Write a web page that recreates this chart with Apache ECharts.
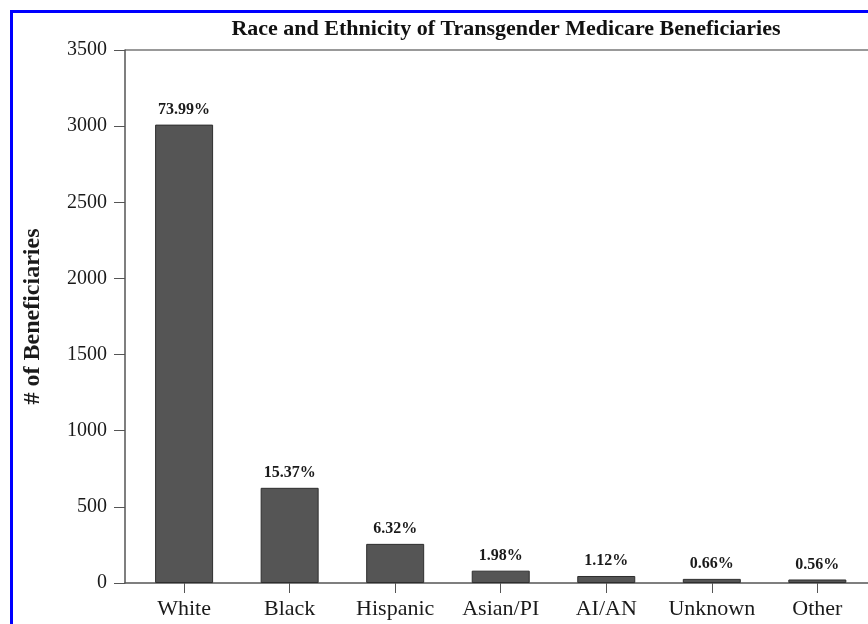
<!DOCTYPE html>
<html>
<head>
<meta charset="utf-8">
<script src="https://cdn.jsdelivr.net/npm/echarts@6/dist/echarts.min.js"></script>
<style>
  html, body { margin: 0; padding: 0; background: #fff; overflow: hidden; }
  #main { position: absolute; left: 0; top: 0; width: 868px; height: 624px; }
  #frame { position: absolute; left: 10px; top: 10px; width: 900px; height: 700px;
           border-left: 3px solid #0000ff; border-top: 3px solid #0000ff; pointer-events: none; }
</style>
</head>
<body>
<div id="main"></div>
<div id="frame"></div>
<script>
var categories = ['White', 'Black', 'Hispanic', 'Asian/PI', 'AI/AN', 'Unknown', 'Other'];
var counts = [3010, 625, 257, 81, 46, 27, 23];
var percents = ['73.99%', '15.37%', '6.32%', '1.98%', '1.12%', '0.66%', '0.56%'];
var yTicks = [0, 500, 1000, 1500, 2000, 2500, 3000, 3500];

var serif = '"Liberation Serif", "DejaVu Serif", serif';

var myChart = echarts.init(document.getElementById('main'));
myChart.setOption({
  animation: false,
  title: {
    text: 'Race and Ethnicity of Transgender Medicare Beneficiaries',
    left: 501,
    textAlign: 'center',
    top: 13,
    textStyle: { fontFamily: serif, fontWeight: 'bold', fontSize: 22, color: '#111' }
  },
  grid: { left: 125, right: 0, top: 50, bottom: 41 },
  xAxis: {
    type: 'value',
    min: -0.56,
    max: 6.48,
    splitLine: { show: false },
    axisLine: { show: true, onZero: false, lineStyle: { color: '#555', width: 1.5 } },
    axisTick: { show: true, customValues: categories.map(function (c, i) { return i; }),
      length: 10, lineStyle: { color: '#555' } },
    axisLabel: {
      customValues: categories.map(function (c, i) { return i; }),
      formatter: function (v) { return categories[Math.round(v)]; },
      fontFamily: serif, fontSize: 22, color: '#1a1a1a', margin: 15
    }
  },
  yAxis: {
    type: 'value',
    min: 0,
    max: 3500,
    interval: 500,
    name: '# of Beneficiaries',
    nameLocation: 'middle',
    nameGap: 80,
    nameTextStyle: { fontFamily: serif, fontWeight: 'bold', fontSize: 24, color: '#1a1a1a' },
    splitLine: { show: false },
    axisLine: { show: true, onZero: false, lineStyle: { color: '#555', width: 1.5 } },
    axisTick: { show: true, length: 11, lineStyle: { color: '#555' } },
    axisLabel: { fontFamily: serif, fontSize: 20, color: '#1a1a1a', margin: 18,
      formatter: function (v) { return yTicks.indexOf(v) >= 0 ? String(v) : ''; } }
  },
  series: [{
    type: 'bar',
    barWidth: 58,
    data: counts.map(function (v, i) { return [i, v]; }),
    itemStyle: { color: '#555555', borderColor: '#2e2e2e', borderWidth: 1 },
    label: {
      show: true,
      position: 'top',
      distance: 7,
      formatter: function (p) { return percents[p.dataIndex]; },
      fontFamily: serif, fontWeight: 'bold', fontSize: 16, color: '#1a1a1a'
    }
  }],
  graphic: [{
    type: 'line',
    shape: { x1: 125, y1: 50, x2: 868, y2: 50 },
    style: { stroke: '#777', lineWidth: 1.5 }
  }]
});
</script>
</body>
</html>
